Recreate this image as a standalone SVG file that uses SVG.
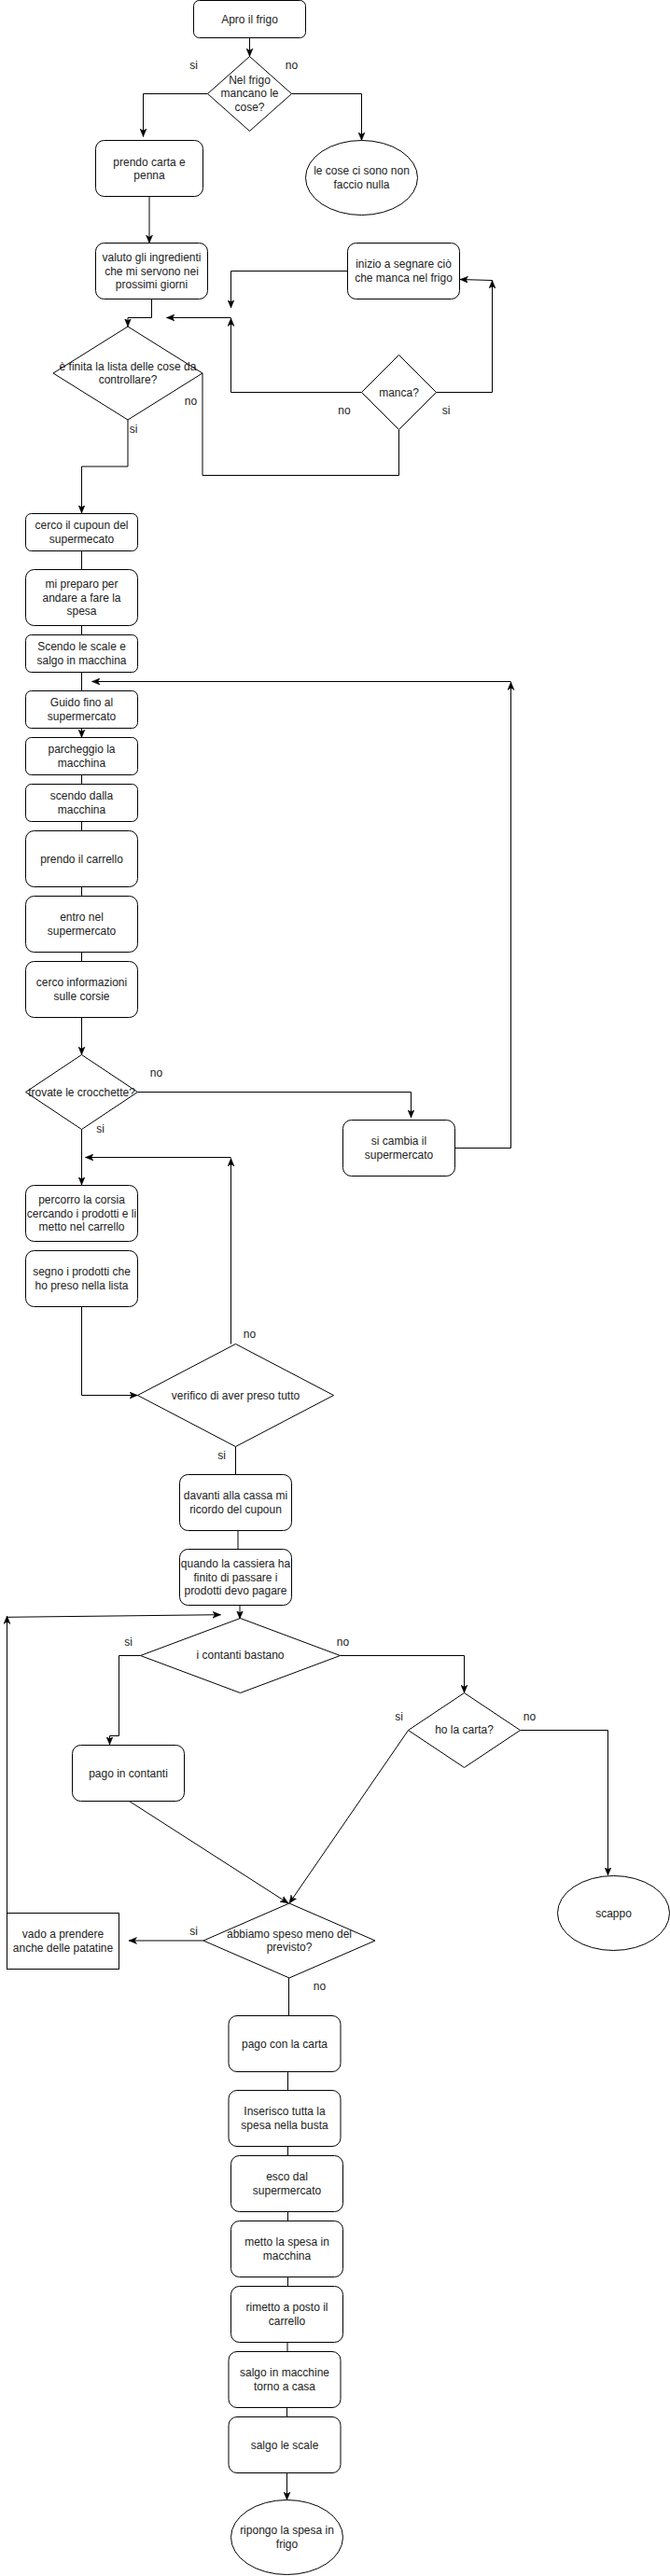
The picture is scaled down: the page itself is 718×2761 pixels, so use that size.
<svg xmlns="http://www.w3.org/2000/svg" width="718" height="2761" viewBox="0 0 718 2761">
<style>
.s{fill:#fff;stroke:#000;stroke-width:1}
.t{font-family:"Liberation Sans",Arial,sans-serif;font-size:12px;fill:#222;text-anchor:middle;dominant-baseline:central}
.c{fill:none;stroke:#000;stroke-width:1}
.a{marker-end:url(#ah)}
</style>
<defs>
<marker id="ah" markerUnits="userSpaceOnUse" markerWidth="9" markerHeight="8" viewBox="0 0 9 8" refX="8.5" refY="4" orient="auto">
<path d="M0,0.5 L8.5,4 L0,7.5 L2.2,4 Z" fill="#000" stroke="#000" stroke-width="0.5"/>
</marker>
</defs>
<rect width="718" height="2761" fill="#fff"/>

<g id="connectors">
<path class="c a" d="M267.5,40.5 V60.5"/>
<path class="c a" d="M222.5,100.5 H153.5 V146.5"/>
<path class="c a" d="M312.5,100.5 H387.5 V150.5"/>
<path class="c a" d="M160,210.5 V260.5"/>
<path class="c a" d="M162.5,320.5 V340.5 H137 V350"/>
<path class="c a" d="M137,450 V500 H87.5 V550"/>
<path class="c" d="M217,400 V509.5 H427.5 V460.5"/>
<path class="c a" d="M387.5,420.5 H247.5 V341"/>
<path class="c a" d="M247.5,340.5 H178.5"/>
<path class="c a" d="M467.5,420.5 H527.5 V300.5"/>
<path class="c a" d="M527.5,300.5 L493,299.5"/>
<path class="c a" d="M372.5,290.5 H247.5 V330"/>
<path class="c" d="M87.5,590.5 V610.5"/>
<path class="c" d="M87.5,670.5 V680.5"/>
<path class="c" d="M87.5,720.5 V740.5"/>
<path class="c a" d="M87.5,780.5 V790.5"/>
<path class="c" d="M87.5,830.5 V840.5"/>
<path class="c" d="M87.5,880.5 V890.5"/>
<path class="c" d="M87.5,950.5 V960.5"/>
<path class="c" d="M87.5,1020.5 V1030.5"/>
<path class="c a" d="M87.5,1090.5 V1130.5"/>
<path class="c a" d="M147.5,1170.5 H440.5 V1198"/>
<path class="c a" d="M487.5,1230.5 H547.5 V731"/>
<path class="c a" d="M547.5,730.5 H98.5"/>
<path class="c a" d="M87.5,1210.5 V1270"/>
<path class="c a" d="M247.5,1440.5 V1241.5"/>
<path class="c a" d="M247.5,1240.5 H91.5"/>
<path class="c a" d="M87.5,1400.5 V1495.5 H147.5"/>
<path class="c" d="M252.5,1550.5 V1580.5"/>
<path class="c" d="M255,1640.5 V1660.5"/>
<path class="c a" d="M257,1720.5 V1735"/>
<path class="c a" d="M7.5,2050.5 V1732"/>
<path class="c a" d="M7.5,1733.3 L236.5,1730.7"/>
<path class="c a" d="M150.5,1774.5 H127.5 V1860.5 H117.5 V1870"/>
<path class="c a" d="M364.5,1774.5 H497.5 V1814.5"/>
<path class="c a" d="M557.5,1854.5 H651.5 V2010"/>
<path class="c a" d="M437.5,1854.5 L310,2040"/>
<path class="c a" d="M138.5,1930.5 L309,2040"/>
<path class="c a" d="M218,2080 H138"/>
<path class="c" d="M309.5,2120 V2160.5"/>
<path class="c" d="M308.5,2220.5 V2240.5"/>
<path class="c" d="M308.5,2300.5 V2310.5"/>
<path class="c" d="M308.5,2370.5 V2380.5"/>
<path class="c" d="M308.5,2440.5 V2450.5"/>
<path class="c" d="M308,2510.5 V2520.5"/>
<path class="c" d="M307.5,2580.5 V2590.5"/>
<path class="c a" d="M307.5,2650.5 V2679.5"/>
</g>

<g id="labels">
<text class="t" x="207.5" y="70">si</text>
<text class="t" x="312.5" y="70">no</text>
<text class="t" x="204.5" y="430">no</text>
<text class="t" x="143" y="460">si</text>
<text class="t" x="369" y="440">no</text>
<text class="t" x="478" y="440">si</text>
<text class="t" x="167.5" y="1150">no</text>
<text class="t" x="107.5" y="1210">si</text>
<text class="t" x="267.5" y="1430">no</text>
<text class="t" x="237.5" y="1560">si</text>
<text class="t" x="137.5" y="1760">si</text>
<text class="t" x="367.5" y="1760">no</text>
<text class="t" x="427.5" y="1840">si</text>
<text class="t" x="567.5" y="1840">no</text>
<text class="t" x="207.5" y="2070">si</text>
<text class="t" x="342.5" y="2129">no</text>
</g>

<g id="n1"><rect class="s" x="207.5" y="0.5" width="120" height="40" rx="6"/><text class="t" x="267.5" y="20.5">Apro il frigo</text></g>
<g id="n2"><polygon class="s" points="267.5,60.5 312.5,100.5 267.5,140.5 222.5,100.5"/><text class="t"><tspan x="267.5" y="86">Nel frigo</tspan><tspan x="267.5" y="100.4">mancano le</tspan><tspan x="267.5" y="114.8">cose?</tspan></text></g>
<g id="n3"><rect class="s" x="102.5" y="150.5" width="115" height="60" rx="9"/><text class="t"><tspan x="160" y="173.5">prendo carta e</tspan><tspan x="160" y="187.9">penna</tspan></text></g>
<g id="n4"><ellipse class="s" cx="387.5" cy="190.5" rx="60" ry="40"/><text class="t"><tspan x="387.5" y="183.3">le cose ci sono non</tspan><tspan x="387.5" y="197.7">faccio nulla</tspan></text></g>
<g id="n5"><rect class="s" x="102.5" y="260.5" width="120" height="60" rx="9"/><text class="t"><tspan x="162.5" y="276.1">valuto gli ingredienti</tspan><tspan x="162.5" y="290.5">che mi servono nei</tspan><tspan x="162.5" y="304.9">prossimi giorni</tspan></text></g>
<g id="n6"><rect class="s" x="372.5" y="260.5" width="120" height="60" rx="9"/><text class="t"><tspan x="432.5" y="283.3">inizio a segnare ciò</tspan><tspan x="432.5" y="297.7">che manca nel frigo</tspan></text></g>
<g id="n7"><polygon class="s" points="137,350 217,400 137,450 57,400"/><text class="t"><tspan x="137" y="392.8">è finita la lista delle cose da</tspan><tspan x="137" y="407.2">controllare?</tspan></text></g>
<g id="n8"><polygon class="s" points="427.5,380.5 467.5,420.5 427.5,460.5 387.5,420.5"/><text class="t" x="427.5" y="420.5">manca?</text></g>
<g id="n9"><rect class="s" x="27.5" y="550.5" width="120" height="40" rx="6"/><text class="t"><tspan x="87.5" y="563.3">cerco il cupoun del</tspan><tspan x="87.5" y="577.7">supermecato</tspan></text></g>
<g id="n10"><rect class="s" x="27.5" y="610.5" width="120" height="60" rx="9"/><text class="t"><tspan x="87.5" y="626.1">mi preparo per</tspan><tspan x="87.5" y="640.5">andare a fare la</tspan><tspan x="87.5" y="654.9">spesa</tspan></text></g>
<g id="n11"><rect class="s" x="27.5" y="680.5" width="120" height="40" rx="6"/><text class="t"><tspan x="87.5" y="693.3">Scendo le scale e</tspan><tspan x="87.5" y="707.7">salgo in macchina</tspan></text></g>
<g id="n12"><rect class="s" x="27.5" y="740.5" width="120" height="40" rx="6"/><text class="t"><tspan x="87.5" y="753.3">Guido fino al</tspan><tspan x="87.5" y="767.7">supermercato</tspan></text></g>
<g id="n13"><rect class="s" x="27.5" y="790.5" width="120" height="40" rx="6"/><text class="t"><tspan x="87.5" y="803.3">parcheggio la</tspan><tspan x="87.5" y="817.7">macchina</tspan></text></g>
<g id="n14"><rect class="s" x="27.5" y="840.5" width="120" height="40" rx="6"/><text class="t"><tspan x="87.5" y="853.3">scendo dalla</tspan><tspan x="87.5" y="867.7">macchina</tspan></text></g>
<g id="n15"><rect class="s" x="27.5" y="890.5" width="120" height="60" rx="9"/><text class="t" x="87.5" y="920.5">prendo il carrello</text></g>
<g id="n16"><rect class="s" x="27.5" y="960.5" width="120" height="60" rx="9"/><text class="t"><tspan x="87.5" y="983.3">entro nel</tspan><tspan x="87.5" y="997.7">supermercato</tspan></text></g>
<g id="n17"><rect class="s" x="27.5" y="1030.5" width="120" height="60" rx="9"/><text class="t"><tspan x="87.5" y="1053.3">cerco informazioni</tspan><tspan x="87.5" y="1067.7">sulle corsie</tspan></text></g>
<g id="n18"><polygon class="s" points="87.5,1130.5 147.5,1170.5 87.5,1210.5 27.5,1170.5"/><text class="t" x="87.5" y="1170.5">trovate le crocchette?</text></g>
<g id="n19"><rect class="s" x="367.5" y="1200.5" width="120" height="60" rx="9"/><text class="t"><tspan x="427.5" y="1223.3">si cambia il</tspan><tspan x="427.5" y="1237.7">supermercato</tspan></text></g>
<g id="n20"><rect class="s" x="27.5" y="1270.5" width="120" height="60" rx="9"/><text class="t"><tspan x="87.5" y="1286.1">percorro la corsia</tspan><tspan x="87.5" y="1300.5">cercando i prodotti e li</tspan><tspan x="87.5" y="1314.9">metto nel carrello</tspan></text></g>
<g id="n21"><rect class="s" x="27.5" y="1340.5" width="120" height="60" rx="9"/><text class="t"><tspan x="87.5" y="1363.3">segno i prodotti che</tspan><tspan x="87.5" y="1377.7">ho preso nella lista</tspan></text></g>
<g id="n22"><polygon class="s" points="252.5,1440.5 357.5,1495.5 252.5,1550.5 147.5,1495.5"/><text class="t" x="252.5" y="1495.5">verifico di aver preso tutto</text></g>
<g id="n23"><rect class="s" x="192.5" y="1580.5" width="120" height="60" rx="9"/><text class="t"><tspan x="252.5" y="1603.3">davanti alla cassa mi</tspan><tspan x="252.5" y="1617.7">ricordo del cupoun</tspan></text></g>
<g id="n24"><rect class="s" x="192.5" y="1660.5" width="120" height="60" rx="9"/><text class="t"><tspan x="252.5" y="1676.1">quando la cassiera ha</tspan><tspan x="252.5" y="1690.5">finito di passare i</tspan><tspan x="252.5" y="1704.9">prodotti devo pagare</tspan></text></g>
<g id="n25"><polygon class="s" points="257.5,1734.5 364.5,1774.5 257.5,1814.5 150.5,1774.5"/><text class="t" x="257.5" y="1773.5">i contanti bastano</text></g>
<g id="n26"><rect class="s" x="77.5" y="1870.5" width="120" height="60" rx="9"/><text class="t" x="137.5" y="1900.5">pago in contanti</text></g>
<g id="n27"><polygon class="s" points="497.5,1814.5 557.5,1854.5 497.5,1894.5 437.5,1854.5"/><text class="t" x="497.5" y="1854">ho la carta?</text></g>
<g id="n28"><ellipse class="s" cx="657.5" cy="2050.5" rx="60" ry="40"/><text class="t" x="657.5" y="2050.5">scappo</text></g>
<g id="n29"><polygon class="s" points="310,2040 402,2080 310,2120 218,2080"/><text class="t"><tspan x="310" y="2072.8">abbiamo speso meno del</tspan><tspan x="310" y="2087.2">previsto?</tspan></text></g>
<g id="n30"><rect class="s" x="7.5" y="2050.5" width="120" height="60"/><text class="t"><tspan x="67.5" y="2073.3">vado a prendere</tspan><tspan x="67.5" y="2087.7">anche delle patatine</tspan></text></g>
<g id="n31"><rect class="s" x="245" y="2160.5" width="120" height="60" rx="9"/><text class="t" x="305" y="2190.5">pago con la carta</text></g>
<g id="n32"><rect class="s" x="245" y="2240.5" width="120" height="60" rx="9"/><text class="t"><tspan x="305" y="2263.3">Inserisco tutta la</tspan><tspan x="305" y="2277.7">spesa nella busta</tspan></text></g>
<g id="n33"><rect class="s" x="247.5" y="2310.5" width="120" height="60" rx="9"/><text class="t"><tspan x="307.5" y="2333.3">esco dal</tspan><tspan x="307.5" y="2347.7">supermercato</tspan></text></g>
<g id="n34"><rect class="s" x="247.5" y="2380.5" width="120" height="60" rx="9"/><text class="t"><tspan x="307.5" y="2403.3">metto la spesa in</tspan><tspan x="307.5" y="2417.7">macchina</tspan></text></g>
<g id="n35"><rect class="s" x="247.5" y="2450.5" width="120" height="60" rx="9"/><text class="t"><tspan x="307.5" y="2473.3">rimetto a posto il</tspan><tspan x="307.5" y="2487.7">carrello</tspan></text></g>
<g id="n36"><rect class="s" x="245" y="2520.5" width="120" height="60" rx="9"/><text class="t"><tspan x="305" y="2543.3">salgo in macchine</tspan><tspan x="305" y="2557.7">torno a casa</tspan></text></g>
<g id="n37"><rect class="s" x="245" y="2590.5" width="120" height="60" rx="9"/><text class="t" x="305" y="2620.5">salgo le scale</text></g>
<g id="n38"><ellipse class="s" cx="307.5" cy="2719.5" rx="60" ry="40"/><text class="t"><tspan x="307.5" y="2712.3">ripongo la spesa in</tspan><tspan x="307.5" y="2726.7">frigo</tspan></text></g>
</svg>
